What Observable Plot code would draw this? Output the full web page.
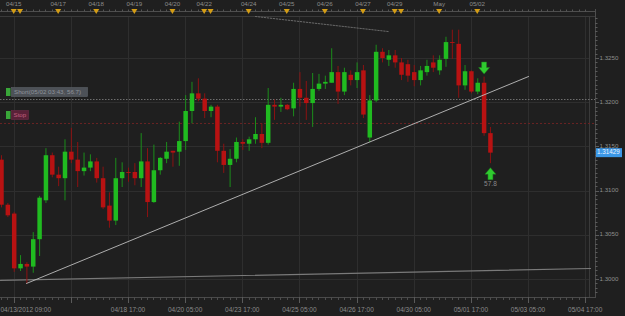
<!DOCTYPE html>
<html><head><meta charset="utf-8">
<script src="https://cdn.jsdelivr.net/npm/d3@7"></script>
<script src="https://cdn.jsdelivr.net/npm/@observablehq/plot@0.6"></script>
<style>
html,body{margin:0;padding:0;background:#1f1f1f;}
#chart{width:625px;height:316px;overflow:hidden;}
</style></head><body><div id="chart"></div>
<script>
// ---- data (4-hour candles, EUR/USD) ----
const opens  = [1.3135,1.3084,1.3074,1.3012,1.3017,1.3014,1.3045,1.3089,1.3140,1.3118,1.3114,1.3144,1.3135,1.3122,1.3126,1.3133,1.3114,1.3083,1.3066,1.3114,1.3121,1.3121,1.3114,1.3133,1.3087,1.3123,1.3136,1.3145,1.3144,1.3156,1.3190,1.3210,1.3204,1.3190,1.3195,1.3145,1.3129,1.3136,1.3155,1.3153,1.3158,1.3164,1.3154,1.3197,1.3195,1.3197,1.3193,1.3215,1.3205,1.3199,1.3215,1.3221,1.3222,1.3234,1.3212,1.3231,1.3225,1.3236,1.3160,1.3202,1.3257,1.3248,1.3253,1.3245,1.3243,1.3234,1.3225,1.3234,1.3245,1.3236,1.3249,1.3268,1.3266,1.3219,1.3235,1.3212,1.3222,1.3165];
const highs  = [1.3140,1.3086,1.3076,1.3027,1.3019,1.3053,1.3094,1.3148,1.3143,1.3127,1.3158,1.3171,1.3155,1.3143,1.3141,1.3137,1.3127,1.3098,1.3137,1.3132,1.3126,1.3131,1.3165,1.3148,1.3152,1.3138,1.3155,1.3145,1.3178,1.3208,1.3223,1.3227,1.3210,1.3197,1.3197,1.3153,1.3147,1.3160,1.3158,1.3161,1.3183,1.3176,1.3216,1.3203,1.3205,1.3198,1.3222,1.3234,1.3224,1.3233,1.3232,1.3230,1.3261,1.3241,1.3239,1.3236,1.3245,1.3242,1.3208,1.3265,1.3261,1.3259,1.3259,1.3250,1.3248,1.3242,1.3241,1.3248,1.3253,1.3253,1.3274,1.3282,1.3282,1.3242,1.3236,1.3227,1.3229,1.3172];
const lows   = [1.3081,1.3070,1.3008,1.3009,1.2995,1.3007,1.3026,1.3086,1.3115,1.3105,1.3089,1.3131,1.3104,1.3117,1.3122,1.3109,1.3079,1.3058,1.3061,1.3104,1.3110,1.3106,1.3104,1.3070,1.3086,1.3118,1.3131,1.3127,1.3128,1.3146,1.3176,1.3201,1.3182,1.3183,1.3132,1.3120,1.3104,1.3132,1.3146,1.3145,1.3153,1.3148,1.3152,1.3180,1.3189,1.3191,1.3184,1.3195,1.3180,1.3172,1.3213,1.3215,1.3222,1.3198,1.3208,1.3219,1.3216,1.3182,1.3155,1.3200,1.3245,1.3241,1.3239,1.3225,1.3223,1.3218,1.3219,1.3230,1.3234,1.3231,1.3240,1.3249,1.3205,1.3214,1.3210,1.3209,1.3162,1.3131];
const closes = [1.3084,1.3072,1.3012,1.3017,1.3014,1.3045,1.3092,1.3140,1.3118,1.3114,1.3144,1.3135,1.3122,1.3126,1.3133,1.3114,1.3081,1.3066,1.3114,1.3121,1.3120,1.3114,1.3133,1.3087,1.3123,1.3137,1.3144,1.3143,1.3156,1.3190,1.3210,1.3204,1.3190,1.3195,1.3145,1.3129,1.3136,1.3155,1.3153,1.3158,1.3164,1.3154,1.3197,1.3195,1.3197,1.3192,1.3215,1.3205,1.3199,1.3215,1.3221,1.3223,1.3234,1.3212,1.3234,1.3225,1.3234,1.3186,1.3202,1.3257,1.3250,1.3253,1.3245,1.3231,1.3230,1.3225,1.3236,1.3241,1.3239,1.3248,1.3268,1.3267,1.3219,1.3235,1.3212,1.3222,1.3165,1.31429];

const yTicks = [1.3000,1.3050,1.3100,1.3150,1.3200,1.3250];
const xTickIdx = [2,11,20,29,38,47,56,65,74,83,92];
const xTickLabels = ["04/13/2012 09:00","","04/18 17:00","04/20 05:00","04/23 17:00","04/25 05:00","04/26 17:00","04/30 05:00","05/01 17:00","05/03 05:00","05/04 17:00"];
const topMarkIdx = [2,3,9,15,21,27,32,33,39,45,51,57,62,63,69,75];
const topLabelIdx = [2,9,15,21,27,32,39,45,51,57,62,69,75];
const topLabels = ["04/15","04/17","04/18","04/19","04/20","04/22","04/24","04/25","04/26","04/27","04/29","May","05/02"];

const shortLevel = 1.32036, stopLevel = 1.31765;
const shortText = "Short(05/02 03:43, 56.7)", stopText = "Stop";
const trendIdx = [3.94, 83], trendPrice = [1.29955, 1.32296];
const supportIdx = [-0.157, 92.76], supportPrice = [1.29989, 1.30124];
const topDashIdx = [40, 60.9], topDashPrice = [1.32975, 1.32805];
const signalIdx = [76, 77], signalType = ["down", "up"], signalText = ["", "57.8"];

// ---- derived tables ----
const candles = opens.map((o, i) => ({i, o, h: highs[i], l: lows[i], c: closes[i], up: closes[i] >= o}));
const trend = trendIdx.map((i, k) => ({i, p: trendPrice[k]}));
const support = supportIdx.map((i, k) => ({i, p: supportPrice[k]}));
const topDash = topDashIdx.map((i, k) => ({i, p: topDashPrice[k]}));
const signals = signalIdx.map((i, k) => ({i, type: signalType[k], text: signalText[k], h: highs[i], l: lows[i]}));
const lastClose = closes[closes.length - 1];

const GREEN = "#20bb20", RED = "#b81212", GREEN_W = "#1b8d1b", RED_W = "#8c1212";
const FONT = "'Liberation Sans', Arial, sans-serif";

const arrowDown = {draw(ctx) { ctx.moveTo(-2.5,-6); ctx.lineTo(2.5,-6); ctx.lineTo(2.5,-0.5); ctx.lineTo(5.5,-0.5); ctx.lineTo(0,6); ctx.lineTo(-5.5,-0.5); ctx.lineTo(-2.5,-0.5); ctx.closePath(); }};
const arrowUp = {draw(ctx) { ctx.moveTo(-2.5,6); ctx.lineTo(2.5,6); ctx.lineTo(2.5,0.5); ctx.lineTo(5.5,0.5); ctx.lineTo(0,-6); ctx.lineTo(-5.5,0.5); ctx.lineTo(-2.5,0.5); ctx.closePath(); }};

function decor(draw) {
  return function(...args) {
    const scales = args.find(a => a && !Array.isArray(a) && typeof a.x === "function" && typeof a.y === "function");
    const g = d3.create("svg:g");
    draw(g, scales.x, scales.y);
    return g.node();
  };
}
function line(g, x1, y1, x2, y2, stroke, extra = {}) {
  const l = g.append("line").attr("x1", x1).attr("y1", y1).attr("x2", x2).attr("y2", y2).attr("stroke", stroke);
  for (const k in extra) l.attr(k, extra[k]);
  return l;
}
function text(g, x, y, s, fill, size, anchor = "start") {
  return g.append("text").attr("x", x).attr("y", y).attr("fill", fill).attr("font-size", size)
    .attr("font-family", FONT).attr("text-anchor", anchor).attr("dominant-baseline", "middle").text(s);
}

const background = decor((g, X, Y) => {
  // gridlines
  for (const i of xTickIdx) line(g, Math.round(X(i)) + 0.5, 16, Math.round(X(i)) + 0.5, 297, "#2e2e2e");
  for (const p of yTicks) line(g, 0, Math.round(Y(p)) + 0.5, 589, Math.round(Y(p)) + 0.5, "#2e2e2e");
  // frame
  line(g, 0, 16.5, 595, 16.5, "#3a3a3a");
  line(g, 589.5, 16, 589.5, 297, "#3a3a3a");
  line(g, 0, 297.5, 596, 297.5, "#4a4a4a");
  line(g, 595.5, 16, 595.5, 298, "#4a4a4a");
  // right axis ticks and labels
  for (let k = 0; k <= 64; k++) {
    const p = 1.2980 + k * 0.0005;
    const y = Math.round(Y(p)) + 0.5;
    if (y < 17 || y > 296) continue;
    const major = Math.abs((p * 1000) % 5) < 1e-6 || Math.abs((p * 1000) % 5 - 5) < 1e-6;
    line(g, 595, y, major ? 599 : 597.5, y, "#5a5a5a");
  }
  for (const p of yTicks) text(g, 599.5, Y(p), p.toFixed(4), "#8e8e8e", 6.2);
  // bottom axis ticks
  for (let i = 0; i <= 92; i++) line(g, Math.round(X(i)) + 0.5, 297, Math.round(X(i)) + 0.5, 300, "#4d4d4d");
  xTickIdx.forEach((i, k) => {
    line(g, Math.round(X(i)) + 0.5, 297, Math.round(X(i)) + 0.5, 303, "#5a5a5a");
    const s = xTickLabels[k];
    if (!s) return;
    if (k === 0) text(g, 0.5, 310.5, s, "#8a8a8a", 6.5, "start");
    else text(g, X(i), 310.5, s, "#8a8a8a", 6.5, "middle");
  });
  // top timeline bar
  line(g, 0, 11.5, 595, 11.5, "#4e4e4e");
  line(g, 595.5, 9, 595.5, 16, "#4e4e4e");
  for (let i = 0; i <= 92; i++) line(g, Math.round(X(i)) + 0.5, 9.5, Math.round(X(i)) + 0.5, 11.5, "#555");
  for (const i of topMarkIdx) {
    const x = X(i);
    g.append("path").attr("d", `M${x - 3},9L${x + 3},9L${x},14Z`).attr("fill", "#d49d16");
  }
  topLabelIdx.forEach((i, k) => text(g, X(i), 4.5, topLabels[k], "#8c8c8c", 6.2, "middle"));
});

const foreground = decor((g, X, Y) => {
  // Short / Stop order labels
  const ys = Math.round(Y(shortLevel));
  g.append("rect").attr("x", 6).attr("y", ys - 11).attr("width", 4.5).attr("height", 8).attr("fill", "#39a739");
  g.append("rect").attr("x", 11.5).attr("y", ys - 11.5).attr("width", 76).attr("height", 9).attr("fill", "#4d5157").attr("stroke", "#5d6168").attr("stroke-width", 0.6);
  text(g, 14, ys - 7, shortText, "#8d939b", 6.2);
  const yt = Math.round(Y(stopLevel));
  g.append("rect").attr("x", 6).attr("y", yt - 12).attr("width", 4.5).attr("height", 8).attr("fill", "#39a739");
  g.append("rect").attr("x", 11.5).attr("y", yt - 12.5).attr("width", 17).attr("height", 9).attr("fill", "#5a2138").attr("stroke", "#6a2c45").attr("stroke-width", 0.6);
  text(g, 13.5, yt - 8, stopText, "#c0607f", 6.2);
  // last price box
  const yp = Y(lastClose);
  g.append("rect").attr("x", 596).attr("y", yp - 4.5).attr("width", 26).attr("height", 9).attr("fill", "#3b97e6");
  text(g, 597, yp, lastClose.toFixed(5), "#eaf4ff", 6.3);
});

const up = candles.filter(d => d.up), dn = candles.filter(d => !d.up);

const chart = Plot.plot({
  width: 625, height: 316,
  marginTop: 16, marginBottom: 19, marginLeft: 0, marginRight: 30,
  style: {background: "#1f1f1f", color: "#8a8a8a", fontFamily: FONT},
  x: {domain: [-0.157, 92.6], range: [0, 589], axis: null},
  y: {domain: [1.29796, 1.32975], range: [297, 16], axis: null},
  marks: [
    background,
    Plot.line(topDash, {x: "i", y: "p", stroke: "#6a6a6a", strokeWidth: 1, strokeDasharray: "1.5,1.5"}),
    Plot.ruleY([shortLevel], {stroke: "#6e6e6e", strokeWidth: 1, strokeDasharray: "1.5,1.5"}),
    Plot.ruleY([stopLevel], {stroke: "#6b2424", strokeWidth: 1, strokeDasharray: "2,2"}),
    Plot.line(support, {x: "i", y: "p", stroke: "#7a7a7a", strokeWidth: 1.2}),
    Plot.ruleX(up, {x: "i", y1: "l", y2: "h", stroke: GREEN_W, strokeWidth: 1}),
    Plot.ruleX(dn, {x: "i", y1: "l", y2: "h", stroke: RED_W, strokeWidth: 1}),
    Plot.ruleX(up, {x: "i", y1: "o", y2: "c", stroke: GREEN, strokeWidth: 4.5}),
    Plot.ruleX(dn, {x: "i", y1: "o", y2: "c", stroke: RED, strokeWidth: 4.5}),
    Plot.line(trend, {x: "i", y: "p", stroke: "#bdbdbd", strokeWidth: 0.9}),
    Plot.dot(signals.filter(d => d.type === "down"), {x: "i", y: "h", dy: -9, symbol: arrowDown, r: 5, fill: "#2fcb2f", stroke: "#1c7d1c", strokeWidth: 0.5}),
    Plot.dot(signals.filter(d => d.type === "up"), {x: "i", y: "l", dy: 10, symbol: arrowUp, r: 5, fill: "#2fcb2f", stroke: "#1c7d1c", strokeWidth: 0.5}),
    Plot.text(signals.filter(d => d.text), {x: "i", y: "l", dy: 20, text: "text", fill: "#8a8a8a", fontSize: 6.5}),
    foreground
  ]
});
document.getElementById("chart").appendChild(chart);
</script></body></html>
